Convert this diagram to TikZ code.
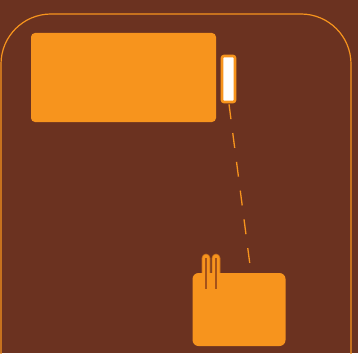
\documentclass[tikz,border=0pt]{standalone}
\definecolor{bgbrown}{HTML}{6B3220}
\definecolor{orng}{HTML}{F7941D}
\definecolor{darkorng}{HTML}{A5531A}
\tikzset{
  panel/.style={fill=orng, draw=none, rounded corners=4pt, inner sep=0pt},
  prong/.style={fill=orng, draw=darkorng!60!orng, line width=0.6pt},
}
\begin{document}
\begin{tikzpicture}[x=1pt,y=-1pt]
  \fill[bgbrown] (0,0) rectangle (358,353);
  \useasboundingbox (0,0) rectangle (358,353);
  \draw[orng,line width=1.2pt,rounded corners=50pt] (1,380) -- (1,14) -- (351,14) -- (351,380);
  % top panel and slot
  \node[panel, minimum width=185pt, minimum height=89pt] (screen) at (123.5,77.5) {};
  \node[fill=white, draw=orng, line width=2.6pt, rounded corners=2pt,
        minimum width=13pt, minimum height=46pt, inner sep=0pt] (slot) at (228.5,79) {};
  % bottom box with prongs
  \foreach \px in {206,216}
    \draw[prong] (\px-4,274) -- (\px-4,258) arc[start angle=180,end angle=0,radius=4pt] -- (\px+4,274);
  \node[panel, minimum width=93pt, minimum height=73pt, rounded corners=6pt] (plug) at (239,309.5) {};
  \foreach \px in {206,216}
    \draw[darkorng, line width=1.3pt] (\px,258) -- (\px,289);
  \coordinate (cableend) at (250.5,269);
  \draw[orng, line width=1.3pt, dash pattern=on 15pt off 14pt] (slot.south) ++(0.5,1) -- (cableend);
\end{tikzpicture}
\end{document}
